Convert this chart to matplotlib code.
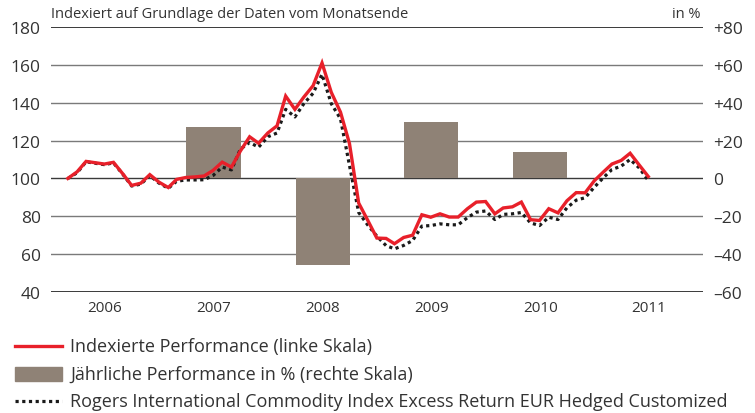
import matplotlib
matplotlib.use("Agg")
import matplotlib.pyplot as plt
import matplotlib.dates as mdates
import pandas as pd
import numpy as np

# ---------------- data ----------------
dates = pd.date_range("2006-02-28", "2011-06-30", freq="ME")
indexed_perf = [100, 103.5, 109, 108.3, 107.6, 108.5, 102.5, 96.3, 97.5, 102, 98, 95.2, 99.5,
                100.5, 100.8, 101.3, 104.2, 108.6, 106, 114.5, 122, 118.6, 124, 127.8, 143.5,
                136.5, 143, 149, 161, 145.5, 135, 118.5, 87, 78, 68.5, 68.3, 65.5, 68.8, 70,
                80.8, 79.5, 81.3, 79.6, 79.6, 84, 87.5, 87.8, 81.3, 84.4, 85, 87.5, 78.2, 77.8,
                84, 81.8, 88.2, 92.5, 92.4, 98.8, 103.5, 107.6, 109.5, 113.3, 107, 101]
rogers_index = [100, 103, 108.8, 108, 107.3, 108.2, 102.3, 96, 97, 101.5, 97.5, 94.8, 98.5,
                99.2, 99.2, 99.3, 101.5, 106, 104.5, 115.5, 119, 116.5, 122, 124, 136.5,
                132.5, 139.5, 145, 155, 139.5, 131.5, 107, 82, 75.5, 69.5, 64.5, 62.8, 64.6, 67.2,
                74.8, 75.1, 76, 75.5, 75.5, 79.3, 82.2, 82.8, 78.3, 81, 81.3, 82, 76.5, 75.1,
                79.5, 78.3, 84.5, 88.5, 89.8, 95.4, 100.5, 104.7, 106.5, 110, 105.5, 98.9]
bar_years = [2007, 2008, 2009, 2010]
annual_perf = [27, -45.5, 30, 14]
year_labels = [2006, 2007, 2008, 2009, 2010, 2011]
left_ticks = [40, 60, 80, 100, 120, 140, 160, 180]
right_ticks = [-60, -40, -20, 0, 20, 40, 60, 80]
right_labels = ["\u201360", "\u201340", "\u201320", "0", "+20", "+40", "+60", "+80"]

RED = "#E8202A"
BAR = "#8F8276"
TXT = "#333333"
GRID = "#7a7a7a"

plt.rcParams["font.family"] = ["Open Sans", "DejaVu Sans"]

fig = plt.figure(figsize=(7.55, 4.14), dpi=100)
ax2 = fig.add_axes([50.6 / 755, 1 - 293 / 414, (703.4 - 50.6) / 755, (293 - 28) / 414])
ax = ax2.twinx()
ax.set_zorder(ax2.get_zorder() + 1)
ax.patch.set_visible(False)

xmin = mdates.date2num(pd.Timestamp("2006-01-01"))
xmax = mdates.date2num(pd.Timestamp("2012-01-01"))

# gridlines on ax2 (right scale)
for t in right_ticks:
    if t in (80, -60):
        ax2.axhline(t, color="#3a3a3a", lw=1.4, zorder=1)
    elif t == 0:
        ax2.axhline(t, color="#3a3a3a", lw=1.0, zorder=1)
    else:
        ax2.axhline(t, color=GRID, lw=1.0, zorder=1)

# bars (right scale)
bar_x = [mdates.date2num(pd.Timestamp(f"{y}-07-02")) for y in bar_years]
ax2.bar(bar_x, annual_perf, width=182, color=BAR, zorder=2)
ax2.set_ylim(-60, 80)
ax2.set_xlim(xmin, xmax)

# lines (left scale)
xd = mdates.date2num(dates)
ax.plot(xd, rogers_index, color="#1a1a1a", lw=2.3, ls=(0, (1, 1.1)), dash_capstyle="butt", zorder=3)
ax.plot(xd, indexed_perf, color=RED, lw=2.4, solid_joinstyle="miter", zorder=4)
ax.set_ylim(40, 180)
ax.set_xlim(xmin, xmax)

ax2.set_yticks(right_ticks)
ax2.set_yticklabels([])
ax2.tick_params(axis="y", length=0, left=False, right=False)
ax.set_yticks(left_ticks)
ax.set_yticklabels([])
ax.tick_params(axis="y", length=0, left=False, right=False)

axl = ax.secondary_yaxis("left")
axl.set_yticks(left_ticks)
axl.set_yticklabels([str(v) for v in left_ticks])
axl.tick_params(axis="y", length=0, pad=7, labelsize=12.5, labelcolor=TXT)
axr = ax2.secondary_yaxis("right")
axr.set_yticks(right_ticks)
axr.set_yticklabels(right_labels)
axr.tick_params(axis="y", length=0, pad=7, labelsize=12.5, labelcolor=TXT)
for a in (axl, axr):
    a.spines[:].set_visible(False)

# x labels at mid-year
mids = [mdates.date2num(pd.Timestamp(f"{y}-07-02")) for y in year_labels]
ax2.set_xticks(mids)
ax2.set_xticklabels([str(y) for y in year_labels])
ax2.tick_params(axis="x", length=0, pad=6, labelsize=11, labelcolor=TXT)

for a in (ax, ax2):
    for s in a.spines.values():
        s.set_visible(False)

fig.text(50.6 / 755, 1 - 14 / 414, "Indexiert auf Grundlage der Daten vom Monatsende",
         fontsize=10.5, color=TXT, ha="left", va="center")
fig.text(700 / 755, 1 - 14 / 414, "in %", fontsize=10.5, color=TXT, ha="right", va="center")

# legend (manual)
rows = [347, 375, 402]
fig.lines.append(plt.Line2D([15 / 755, 62 / 755], [1 - rows[0] / 414] * 2, color=RED, lw=2.4,
                            transform=fig.transFigure))
fig.patches.append(plt.Rectangle((15 / 755, 1 - (rows[1] + 7) / 414), 47 / 755, 14 / 414,
                                 color=BAR, transform=fig.transFigure))
fig.lines.append(plt.Line2D([15 / 755, 62 / 755], [1 - rows[2] / 414] * 2, color="#1a1a1a", lw=2.3,
                            ls=(0, (1, 1.1)), dash_capstyle="butt", transform=fig.transFigure))
labels = ["Indexierte Performance (linke Skala)",
          "Jährliche Performance in % (rechte Skala)",
          "Rogers International Commodity Index Excess Return EUR Hedged Customized"]
for r, lab in zip(rows, labels):
    fig.text(70 / 755, 1 - r / 414, lab, fontsize=13, color=TXT, ha="left", va="center")

fig.savefig("out.png", dpi=100)
